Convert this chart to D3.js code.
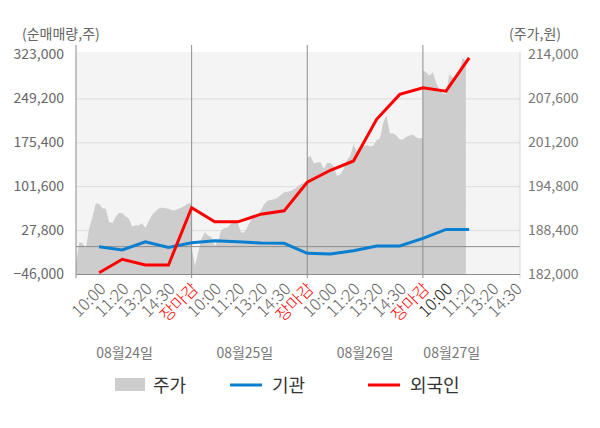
<!DOCTYPE html>
<html>
<head>
<meta charset="utf-8">
<script src="https://cdn.jsdelivr.net/npm/d3@7"></script>
<style>
  body { margin: 0; background: #fff; }
  text { font-family: "Noto Sans CJK KR", "Noto Sans", sans-serif; }
</style>
</head>
<body>
<svg width="600" height="428"></svg>
<script>
// ---- data ----
var dayLabels = ["08월24일", "08월25일", "08월26일", "08월27일"];
var dayLabelSlots = [2.1, 7.3, 12.5, 16.25];
var timeLabels = ["10:00", "11:20", "13:20", "14:30", "장마감"];
var leftTicks = [-46000, 27800, 101600, 175400, 249200, 323000];
var rightTicks = [182000, 188400, 194800, 201200, 207600, 214000];

// 주가, sampled every 1/7 slot within each day
var priceDay1 = [183600, 186600, 186500, 185800, 188700, 190300, 192300, 192200, 191600, 191500,
  189600, 189400, 190300, 190900, 190900, 190400, 190100, 188900, 189100, 189100,
  189400, 188700, 189700, 190600, 191100, 191500, 191700, 191600, 191500, 191300,
  191300, 191500, 191700, 192000, 192300, 192300];
var priceDay2 = [185800, 183200, 185200, 187200, 188100, 187600, 187400, 186100, 186800, 188400,
  188700, 188800, 189400, 189800, 189300, 188000, 188100, 189000, 189900, 190400,
  190600, 191300, 192200, 192700, 192800, 192900, 193100, 193500, 193900, 194000,
  194100, 194400, 194700, 195100, 195300, 195500];
var priceDay3 = [199000, 199200, 198100, 198300, 198300, 197300, 198200, 198200, 197700, 196300,
  196500, 197300, 198600, 199200, 200900, 199900, 200000, 200600, 200800, 200600,
  200700, 201500, 201800, 204100, 205100, 202500, 202500, 202200, 201600, 201600,
  202000, 202200, 202300, 201900, 201800, 201800];
var priceDay4 = [211700, 211400, 210900, 211400, 209900, 208800, 208400, 208200, 211100, 210700,
  210500, 211400, 213500, 213100];

// 순매매량 at each tick slot
var flowSlots = [1, 2, 3, 4, 5, 6, 7, 8, 9, 10, 11, 12, 13, 14, 15, 16, 17];
var institution = [-200, -5700, 8200, -1200, 6500, 9900, 8200, 6000, 5500,
  -11300, -12500, -6900, 1000, 1000, 13900, 29000, 29000];
var foreigner = [-43800, -21300, -30900, -30900, 65500, 41700, 41700, 54600, 60200,
  108300, 128400, 144000, 214000, 255900, 267100, 261400, 317500];

// ---- layout ----
var svg = d3.select("svg");
var L = 76, R = 520, T = 54.5, B = 274;

var x = d3.scaleLinear().domain([0, 19.2]).range([L, R]);
var yL = d3.scaleLinear().domain([-46000, 323000]).range([B, T]);
var yR = d3.scaleLinear().domain([182000, 214000]).range([B, T]);

svg.append("rect").attr("x", L).attr("y", 52).attr("width", R - L).attr("height", B - 52)
  .attr("fill", "#f4f4f4");

// gridlines
svg.append("g").attr("transform", "translate(" + L + ",0)")
  .call(d3.axisLeft(yL).tickValues(leftTicks.slice(1, 5)).tickSize(-(R - L)).tickFormat(""))
  .call(function(g) {
    g.select(".domain").remove();
    g.selectAll("line").attr("stroke", "#dcdcdc");
  });

// price area
var pricePts = [];
[priceDay1, priceDay2, priceDay3, priceDay4].forEach(function(arr, d) {
  arr.forEach(function(p, i) { pricePts.push({ s: d * 5 + i * 5 / 35, p: p }); });
});
svg.append("path").datum(pricePts)
  .attr("fill", "#cdcdcd")
  .attr("d", d3.area().x(function(d) { return x(d.s); }).y0(B).y1(function(d) { return yR(d.p); }));

// zero line
svg.append("line").attr("x1", L).attr("x2", R).attr("y1", yL(0)).attr("y2", yL(0))
  .attr("stroke", "#8c8c8c").attr("stroke-width", 1);

// day separators
svg.append("g").selectAll("line").data([5, 10, 15]).join("line")
  .attr("x1", function(d) { return x(d); }).attr("x2", function(d) { return x(d); })
  .attr("y1", 45).attr("y2", B + 4)
  .attr("stroke", "#8c8c8c");

// left axis
svg.append("g").attr("transform", "translate(" + L + ",0)")
  .call(d3.axisLeft(yL).tickValues(leftTicks).tickSize(0).tickPadding(12).tickFormat(d3.format(",")))
  .call(function(g) {
    g.select(".domain").remove();
    g.selectAll("text").attr("fill", "#666").style("font-size", "14px")
      .style("font-family", "'Noto Sans CJK KR', sans-serif");
  });
svg.append("line").attr("x1", L).attr("x2", L).attr("y1", 45).attr("y2", B + 4)
  .attr("stroke", "#8c8c8c");

// right axis
svg.append("g").attr("transform", "translate(" + R + ",0)")
  .call(d3.axisRight(yR).tickValues(rightTicks).tickSize(0).tickPadding(8).tickFormat(d3.format(",")))
  .call(function(g) {
    g.select(".domain").remove();
    g.selectAll("text").attr("fill", "#777").style("font-size", "14px")
      .style("font-family", "'Noto Sans CJK KR', sans-serif");
  });
svg.append("line").attr("x1", R).attr("x2", R).attr("y1", 52).attr("y2", B + 4)
  .attr("stroke", "#d8d8d8");

// bottom axis
svg.append("g").attr("transform", "translate(0," + B + ")")
  .call(d3.axisBottom(x).tickValues(d3.range(1, 20)).tickSize(0)
    .tickFormat(function(s) { return timeLabels[(s - 1) % 5]; }))
  .call(function(g) {
    g.select(".domain").attr("stroke", "#8c8c8c").attr("d", "M" + L + ",0.5H" + R);
    g.selectAll("text")
      .attr("text-anchor", "end")
      .attr("transform", "translate(3,12) rotate(-45)")
      .attr("dy", "0.35em").attr("y", 0)
      .style("font-size", "16.5px")
      .style("font-weight", "300")
      .style("font-family", "'Noto Sans CJK KR', sans-serif")
      .attr("fill", function(s) { return s % 5 === 0 ? "#ff0000" : (s === 16 ? "#222" : "#666"); });
  });

// day labels
svg.append("g").selectAll("text").data(dayLabels).join("text")
  .attr("x", function(d, i) { return x(dayLabelSlots[i]); })
  .attr("y", 358).attr("text-anchor", "middle")
  .attr("fill", "#777").style("font-size", "14px")
  .text(function(d) { return d; });

// lines
var flowLine = function(vals) {
  return d3.line().x(function(d, i) { return x(flowSlots[i]); }).y(function(d) { return yL(d); })(vals);
};
svg.append("path").attr("d", flowLine(institution))
  .attr("fill", "none").attr("stroke", "#0a7fd0").attr("stroke-width", 3);
svg.append("path").attr("d", flowLine(foreigner))
  .attr("fill", "none").attr("stroke", "#ff0000").attr("stroke-width", 3);

// axis titles
svg.append("text").attr("x", 22).attr("y", 39).attr("fill", "#666").style("font-size", "14px")
  .text("(순매매량,주)");
svg.append("text").attr("x", 509).attr("y", 39).attr("fill", "#666").style("font-size", "14px")
  .text("(주가,원)");

// legend
var legend = svg.append("g");
legend.append("rect").attr("x", 115).attr("y", 378).attr("width", 30).attr("height", 13).attr("fill", "#cdcdcd");
legend.append("text").attr("x", 153).attr("y", 392).attr("fill", "#333").style("font-size", "18px").text("주가");
legend.append("line").attr("x1", 230).attr("x2", 262).attr("y1", 385).attr("y2", 385)
  .attr("stroke", "#0a7fd0").attr("stroke-width", 3);
legend.append("text").attr("x", 272).attr("y", 392).attr("fill", "#333").style("font-size", "18px").text("기관");
legend.append("line").attr("x1", 368).attr("x2", 400).attr("y1", 385).attr("y2", 385)
  .attr("stroke", "#ff0000").attr("stroke-width", 3);
legend.append("text").attr("x", 410).attr("y", 392).attr("fill", "#333").style("font-size", "18px").text("외국인");
</script>
</body>
</html>
